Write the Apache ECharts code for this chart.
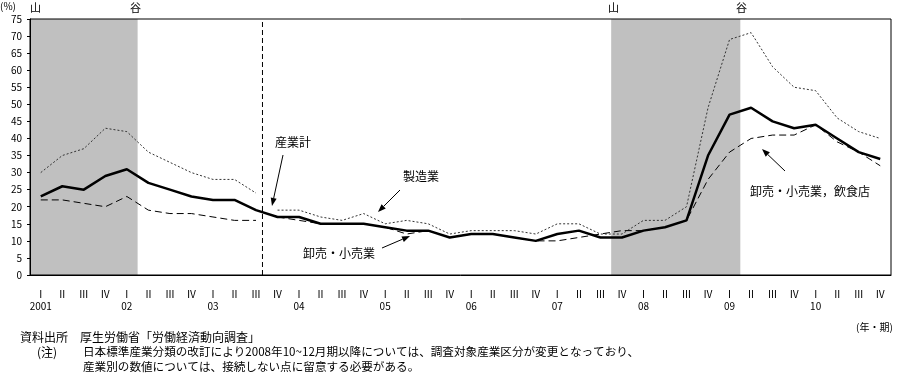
<!DOCTYPE html>
<html>
<head>
<meta charset="utf-8">
<title>労働者過不足判断D.I.</title>
<script src="https://cdn.jsdelivr.net/npm/echarts@6/dist/echarts.min.js"></script>
<style>
    html, body { margin: 0; padding: 0; background: #fff; }
    #chart { width: 899px; height: 376px; }
</style>
</head>
<body>
<div id="chart"></div>
<script>
// 年・期 (2001 I - 2010 IV)
var years = [2001, 2002, 2003, 2004, 2005, 2006, 2007, 2008, 2009, 2010];
var quarterMarks = ['Ⅰ', 'Ⅱ', 'Ⅲ', 'Ⅳ'];

// 産業計
var totalValues = [23, 26, 25, 29, 31, 27, 25, 23, 22, 22, 19, 17, 17, 15, 15, 15, 14, 13, 13, 11,
    12, 12, 11, 10, 12, 13, 11, 11, 13, 14, 16, 35, 47, 49, 45, 43, 44, 40, 36, 34];

// 製造業 (2003 III まで / 2003 IV 以降)
var mfgBefore = [30, 35, 37, 43, 42, 36, 33, 30, 28, 28, 24];
var mfgAfter = [19, 19, 17, 16, 18, 15, 16, 15, 12, 13, 13, 13, 12, 15, 15, 12, 12, 16, 16, 20,
    49, 69, 71, 61, 55, 54, 46, 42, 40];

// 卸売・小売業 (2003 III まで / 2003 IV 以降)
var retailBefore = [22, 22, 21, 20, 23, 19, 18, 18, 17, 16, 16];
var retailAfter = [17, 16, 15, 15, 15, 14, 12, 13, 11, 12, 12, 11, 10, 10, 11, 12, 13, 13, 14, 16,
    28, 36, 40, 41, 41, 44, 39, 36, 32];

// 景気後退期 (山 -> 谷)
var recessions = [['2001-1', '2002-1'], ['2007-4', '2009-1']];

// 産業分類変更による断層 (四半期位置)
var breakPos = 10.8;

var yMax = 75;

var categories = [];
for (var i = 0; i < years.length; i++) {
    for (var q = 1; q <= 4; q++) {
        categories.push(years[i] + '-' + q);
    }
}

function dashes(n) {
    var a = [];
    for (var i = 0; i < n; i++) a.push('-');
    return a;
}

var font = '"Noto Sans CJK JP", "Noto Sans", sans-serif';

function text(str, x, y, size) {
    return {
        type: 'text', x: x, y: y, z: 10,
        style: { text: str, fill: '#000', font: (size || 12) + 'px ' + font, align: 'left', verticalAlign: 'top' }
    };
}

function arrow(x1, y1, x2, y2) {
    var ang = Math.atan2(y2 - y1, x2 - x1), len = 8, w = 3;
    var bx = x2 - len * Math.cos(ang), by = y2 - len * Math.sin(ang);
    return [
        {
            type: 'line', z: 10,
            shape: { x1: x1, y1: y1, x2: bx, y2: by },
            style: { stroke: '#000', lineWidth: 1 }
        },
        {
            type: 'polygon', z: 10,
            shape: { points: [[x2, y2], [bx + w * Math.sin(ang), by - w * Math.cos(ang)], [bx - w * Math.sin(ang), by + w * Math.cos(ang)]] },
            style: { fill: '#000' }
        }
    ];
}

var graphics = [
    text('(%)', 0, 1, 10),
    text('山', 30, 2, 11),
    text('谷', 130, 2, 11),
    text('山', 608, 2, 11),
    text('谷', 736, 2, 11),
    text('産業計', 275, 136),
    text('製造業', 403, 170),
    text('卸売・小売業', 303, 247),
    text('卸売・小売業，飲食店', 750, 185),
    text('(年・期)', 856, 322, 10),
    text('資料出所　厚生労働省「労働経済動向調査」', 20, 331),
    text('(注)', 37, 346),
    text('日本標準産業分類の改訂により2008年10~12月期以降については、調査対象産業区分が変更となっており、', 83, 346, 11.6),
    text('産業別の数値については、接続しない点に留意する必要がある。', 83, 361, 11.6)
]
    .concat(arrow(283, 155, 272, 206))
    .concat(arrow(400, 190, 378, 212))
    .concat(arrow(382, 248, 410, 236))
    .concat(arrow(785, 171, 762, 149));

// shaded recession bands on the hidden quarter-position axis
var shadeSeries = recessions.map(function (r) {
    var s = categories.indexOf(r[0]);
    var e = categories.indexOf(r[1]) + 1;
    return {
        name: '景気後退期',
        type: 'line',
        xAxisIndex: 1,
        data: [[s, yMax], [e, yMax]],
        symbol: 'none',
        silent: true,
        lineStyle: { width: 0 },
        areaStyle: { color: '#c0c0c0', opacity: 1 },
        z: 1
    };
});

var chart = echarts.init(document.getElementById('chart'));

var option = {
    animation: false,
    backgroundColor: '#fff',
    textStyle: { fontFamily: font },
    grid: {
        left: 30, right: 8, top: 19, bottom: 101,
        show: true, borderColor: '#000', borderWidth: 1, z: 5
    },
    xAxis: [
        {
            type: 'category',
            data: categories,
            boundaryGap: true,
            z: 5,
            axisLine: { lineStyle: { color: '#000', width: 1 } },
            axisTick: { show: false },
            axisLabel: {
                interval: 0,
                margin: 13,
                color: '#000',
                fontSize: 10,
                lineHeight: 12,
                formatter: function (value) {
                    var parts = value.split('-');
                    var y = parts[0], q = +parts[1];
                    var mark = quarterMarks[q - 1];
                    if (q !== 1) return mark;
                    return mark + '\n' + (y === '2001' ? y : y.slice(2));
                }
            }
        },
        {
            type: 'value',
            min: 0,
            max: categories.length,
            show: false
        }
    ],
    yAxis: {
        type: 'value',
        min: 0,
        max: yMax,
        interval: 5,
        z: 5,
        axisLine: { show: true, lineStyle: { color: '#000', width: 1 } },
        axisTick: { show: true, length: 3, lineStyle: { color: '#000' } },
        axisLabel: { color: '#000', fontSize: 10, margin: 8 },
        splitLine: { show: false }
    },
    graphic: graphics,
    series: shadeSeries.concat([
        {
            name: '断層',
            type: 'line',
            xAxisIndex: 1,
            data: [[breakPos, 0], [breakPos, yMax - 0.5]],
            symbol: 'none',
            silent: true,
            lineStyle: { color: '#000', width: 1, type: [5, 3] },
            z: 3
        },
        {
            name: '製造業',
            type: 'line',
            data: mfgBefore.concat(dashes(mfgAfter.length)),
            symbol: 'none',
            lineStyle: { color: '#333', width: 1, type: [2, 2] },
            z: 3
        },
        {
            name: '製造業',
            type: 'line',
            data: dashes(mfgBefore.length).concat(mfgAfter),
            symbol: 'none',
            lineStyle: { color: '#333', width: 1, type: [2, 2] },
            z: 3
        },
        {
            name: '卸売・小売業',
            type: 'line',
            data: retailBefore.concat(dashes(retailAfter.length)),
            symbol: 'none',
            lineStyle: { color: '#000', width: 1, type: [7, 4] },
            z: 3
        },
        {
            name: '卸売・小売業',
            type: 'line',
            data: dashes(retailBefore.length).concat(retailAfter),
            symbol: 'none',
            lineStyle: { color: '#000', width: 1, type: [7, 4] },
            z: 3
        },
        {
            name: '産業計',
            type: 'line',
            data: totalValues,
            symbol: 'none',
            lineStyle: { color: '#000', width: 2.5 },
            z: 4
        }
    ])
};

chart.setOption(option);
</script>
</body>
</html>
